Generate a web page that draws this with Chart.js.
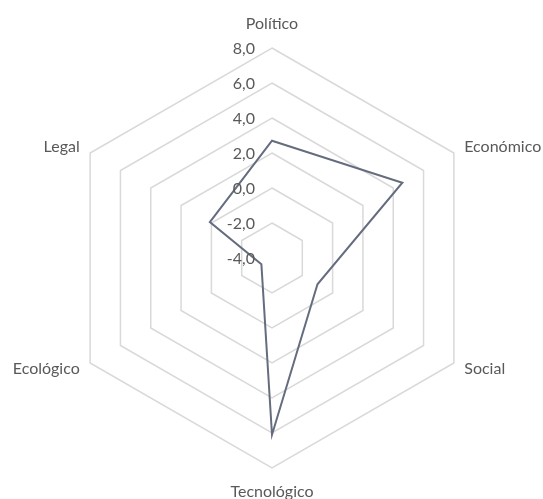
<!DOCTYPE html>
<html><head><meta charset="utf-8">
<script src="https://cdn.jsdelivr.net/npm/chart.js@4/dist/chart.umd.min.js"></script>
<style>html,body{margin:0;padding:0;background:#fff}#wrap{width:543px;height:499px}</style>
</head><body><div id="wrap"><canvas id="c" width="543" height="499"></canvas></div>
<script>
const categories = ['Político', 'Económico', 'Social', 'Tecnológico', 'Ecológico', 'Legal'];
const values = [2.7, 4.6, -1.0, 6.1, -3.3, 0.1];
const tickValues = [-4, -2, 0, 2, 4, 6, 8];

const FONT = '16px Lato, "Liberation Sans", sans-serif';
const TEXT_COLOR = '#595959';

const labelPlugin = {
  id: 'labels',
  afterDraw(chart) {
    const s = chart.scales.r, ctx = chart.ctx;
    ctx.save();
    ctx.font = FONT;
    ctx.fillStyle = TEXT_COLOR;
    ctx.textBaseline = 'middle';
    // tick labels left of the vertical axis
    ctx.textAlign = 'right';
    tickValues.forEach(v => {
      const d = s.getDistanceFromCenterForValue(v);
      ctx.fillText(v.toFixed(1).replace('.', ','), s.xCenter - 17, s.yCenter - d + 1);
    });
    // category labels
    categories.forEach((lab, i) => {
      const vertical = (i === 0 || i === 3);
      const p = s.getPointPosition(i, s.drawingArea + (vertical ? 24 : 12));
      if (vertical) ctx.textAlign = 'center';
      else ctx.textAlign = (p.x > s.xCenter) ? 'left' : 'right';
      ctx.fillText(lab, p.x, p.y);
    });
    ctx.restore();
  }
};

new Chart(document.getElementById('c'), {
  type: 'radar',
  data: {
    labels: categories,
    datasets: [{
      data: values,
      borderColor: '#646c7e',
      borderWidth: 2,
      backgroundColor: 'rgba(0,0,0,0)',
      pointRadius: 0,
      fill: false,
      tension: 0
    }]
  },
  options: {
    responsive: false,
    animation: false,
    layout: { padding: { top: 48, bottom: 31, left: 62, right: 61 } },
    plugins: { legend: { display: false }, tooltip: { enabled: false } },
    scales: {
      r: {
        min: -4, max: 8,
        ticks: { stepSize: 2, display: false },
        angleLines: { display: false },
        grid: { color: '#d9d9d9', lineWidth: 1.5 },
        pointLabels: { display: false }
      }
    }
  },
  plugins: [labelPlugin]
});
</script></body></html>
